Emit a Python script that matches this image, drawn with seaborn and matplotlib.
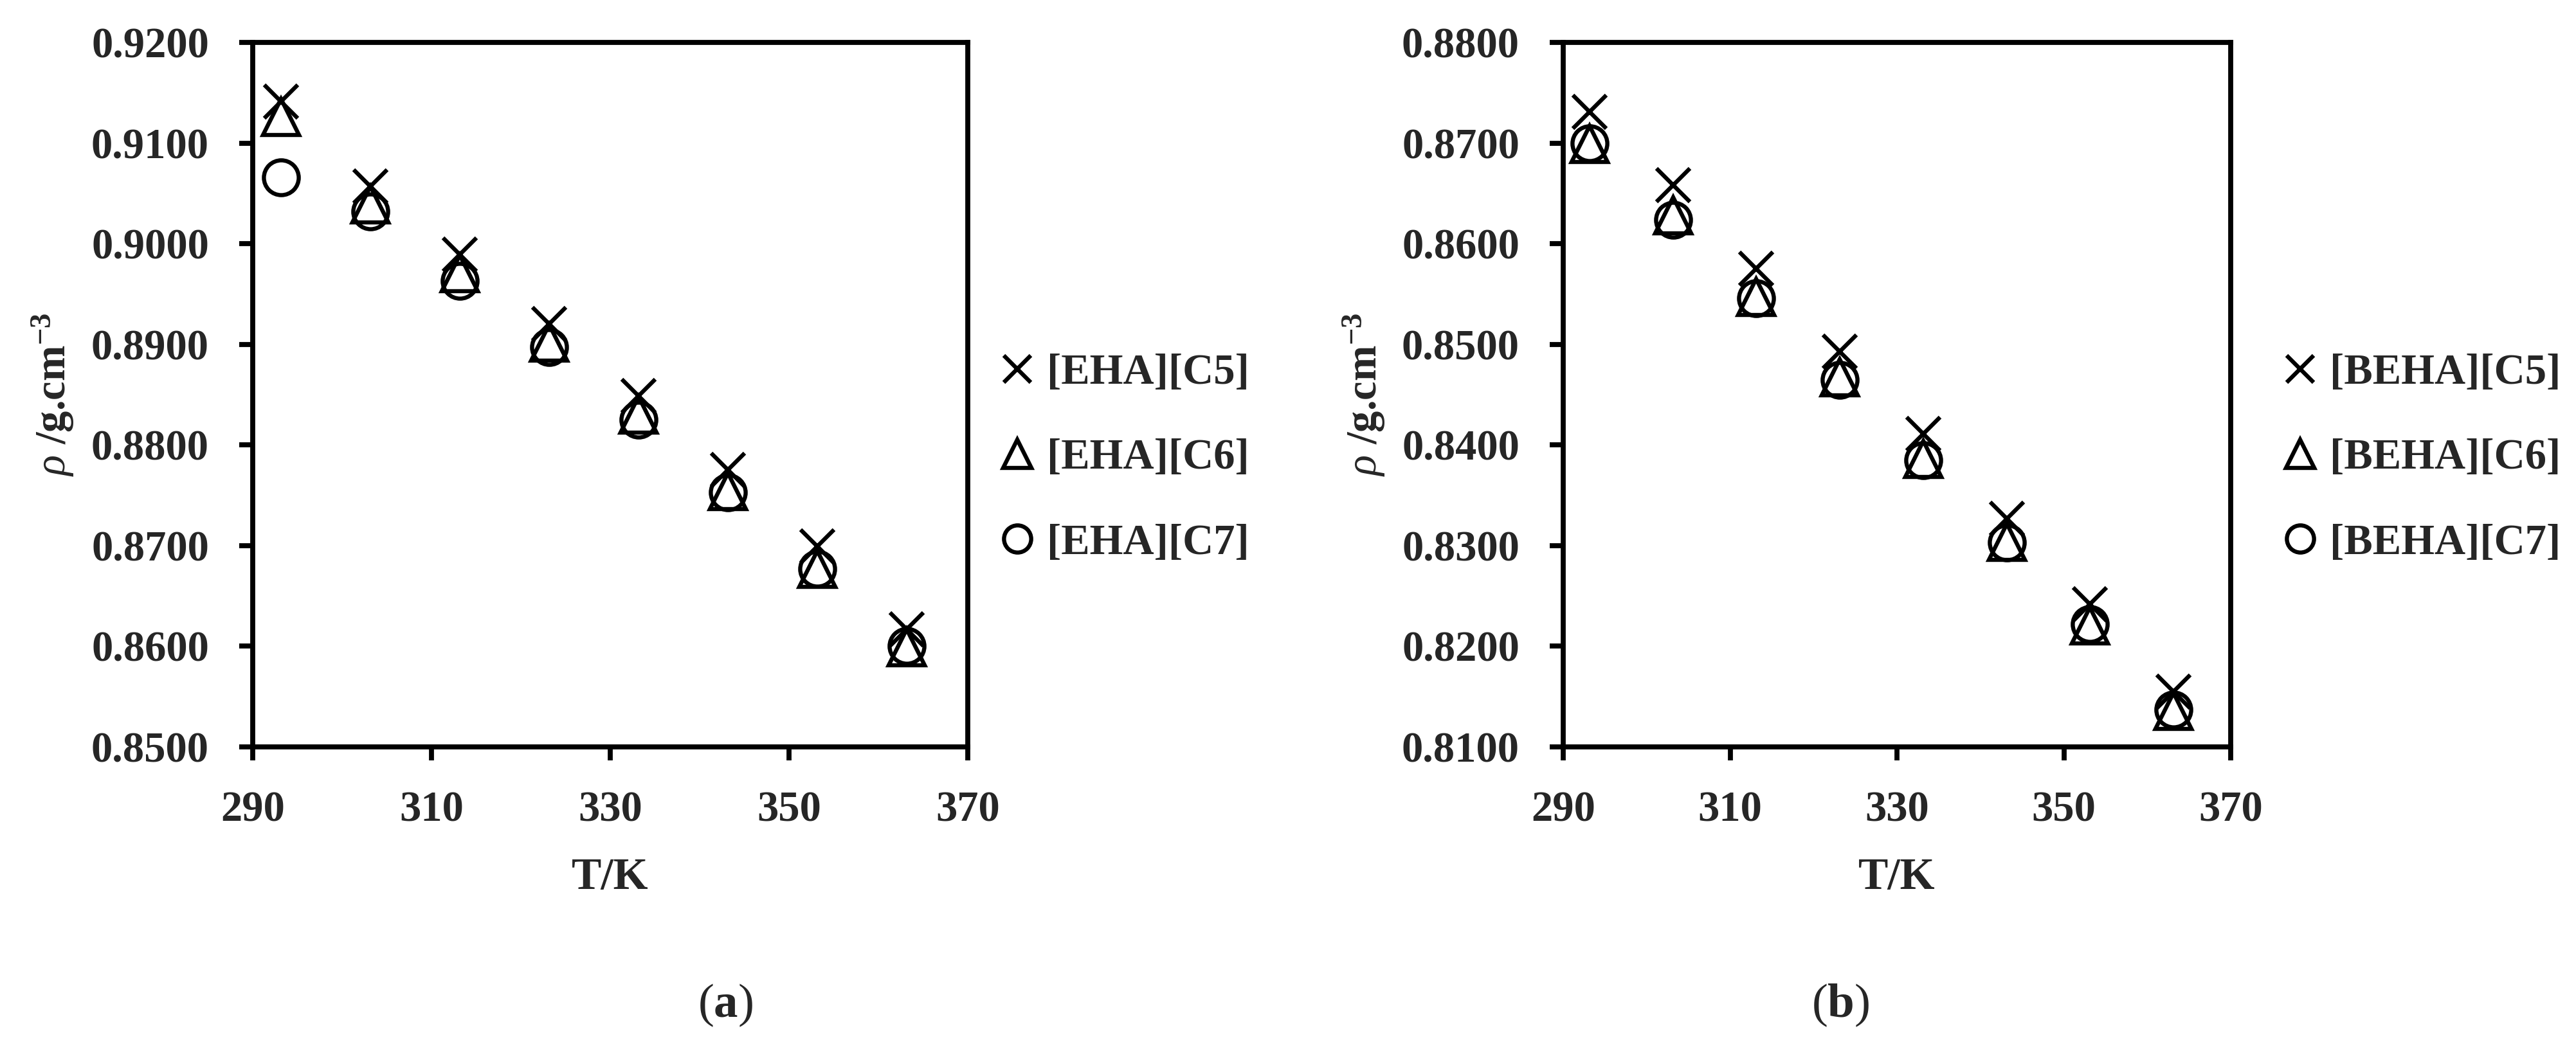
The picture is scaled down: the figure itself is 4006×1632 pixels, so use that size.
import matplotlib
matplotlib.use('Agg')
import matplotlib.pyplot as plt
import seaborn as sns
import pandas as pd
from matplotlib.ticker import MultipleLocator, FormatStrFormatter

# ---------------- data ----------------
T_K = [293.15, 303.15, 313.15, 323.15, 333.15, 343.15, 353.15, 363.15]

labels_a = ['[EHA][C5]', '[EHA][C6]', '[EHA][C7]']
rho_eha_c5 = [0.9141, 0.9057, 0.8989, 0.8920, 0.8849, 0.8775, 0.8699, 0.8617]
rho_eha_c6 = [0.9126, 0.9039, 0.8971, 0.8902, 0.8830, 0.8754, 0.8677, 0.8599]
rho_eha_c7 = [0.9066, 0.9032, 0.8963, 0.8897, 0.8825, 0.8753, 0.8677, 0.8600]

labels_b = ['[BEHA][C5]', '[BEHA][C6]', '[BEHA][C7]']
rho_beha_c5 = [0.8731, 0.8658, 0.8575, 0.8493, 0.8411, 0.8327, 0.8242, 0.8155]
rho_beha_c6 = [0.8699, 0.8628, 0.8547, 0.8467, 0.8386, 0.8304, 0.8221, 0.8136]
rho_beha_c7 = [0.8700, 0.8624, 0.8546, 0.8465, 0.8385, 0.8303, 0.8222, 0.8137]

x_ticks = [290, 310, 330, 350, 370]
ylim_a = (0.85, 0.92)
ylim_b = (0.81, 0.88)
panel_tags = ['a', 'b']

# ---------------- style ----------------
sns.set_style('ticks')
plt.rcParams['font.family'] = ['Liberation Serif', 'DejaVu Serif']
plt.rcParams['mathtext.fontset'] = 'custom'
plt.rcParams['mathtext.rm'] = 'Liberation Serif:bold'
plt.rcParams['mathtext.bf'] = 'Liberation Serif:bold'
plt.rcParams['mathtext.it'] = 'Liberation Serif:italic'

DPI = 200
fig = plt.figure(figsize=(4006 / DPI, 1632 / DPI), dpi=DPI)
fig.patch.set_facecolor('white')

W, H = 4006, 1632
ax_top, ax_bot = 66, 1162
ax_a = fig.add_axes([393 / W, 1 - ax_bot / H, (1505 - 393) / W, (ax_bot - ax_top) / H])
ax_b = fig.add_axes([2431 / W, 1 - ax_bot / H, (3469 - 2431) / W, (ax_bot - ax_top) / H])

markers = ['x', '^', 'o']
MS = [19, 20, 19.5]
MEW = 2.3
LW = 2.8


def draw_panel(ax, series, labels, ylim, ylab_x, leg_x):
    for vals, lab, mk, ms in zip(series, labels, markers, MS):
        df = pd.DataFrame({'T': T_K, 'rho': vals})
        sns.lineplot(data=df, x='T', y='rho', ax=ax, label=lab, marker=mk,
                     linestyle='', markersize=ms, markeredgewidth=MEW,
                     markerfacecolor='none', markeredgecolor='black',
                     color='black', errorbar=None, sort=False)
    ax.set_xlim(290, 370)
    ax.set_ylim(*ylim)
    ax.set_xticks(x_ticks)
    ax.yaxis.set_major_locator(MultipleLocator(0.01))
    ax.yaxis.set_major_formatter(FormatStrFormatter('%.4f'))
    for sp in ax.spines.values():
        sp.set_visible(True)
        sp.set_linewidth(LW)
        sp.set_color('black')
    ax.tick_params(axis='both', which='major', direction='out', length=7.5,
                   width=LW, color='black', labelsize=24, pad=17)
    ax.tick_params(top=False, right=False)
    for t in ax.get_xticklabels() + ax.get_yticklabels():
        t.set_fontweight('bold')
    ax.set_xlabel('T/K', fontsize=25, fontweight='bold')
    ax.xaxis.set_label_coords(0.5, -0.186)
    ax.xaxis.label.set_va('center')
    ax.set_ylabel(r'$\mathit{\rho}$ /g.cm$^{-3}$', fontsize=24, fontweight='bold')
    ax.yaxis.set_label_coords(ylab_x, 0.5)
    ax.yaxis.label.set_va('center')
    ax.grid(False)
    ax.legend(loc='center left', bbox_to_anchor=(leg_x, 0.4097),
              frameon=False, borderpad=0, borderaxespad=0,
              handlelength=0.8, handletextpad=0.29, labelspacing=1.07,
              markerscale=0.78, prop={'weight': 'bold', 'size': 24})


draw_panel(ax_a, [rho_eha_c5, rho_eha_c6, rho_eha_c7], labels_a, ylim_a, -0.279, 1.045)
draw_panel(ax_b, [rho_beha_c5, rho_beha_c6, rho_beha_c7], labels_b, ylim_b, -0.298, 1.078)

fig.text(1128 / W, 1 - 1564 / H, r'($\mathbf{%s}$)' % panel_tags[0], ha='center', va='center',
         fontsize=27)
fig.text(2862 / W, 1 - 1564 / H, r'($\mathbf{%s}$)' % panel_tags[1], ha='center', va='center',
         fontsize=27)

fig.savefig('out.png', dpi=DPI, facecolor='white')
